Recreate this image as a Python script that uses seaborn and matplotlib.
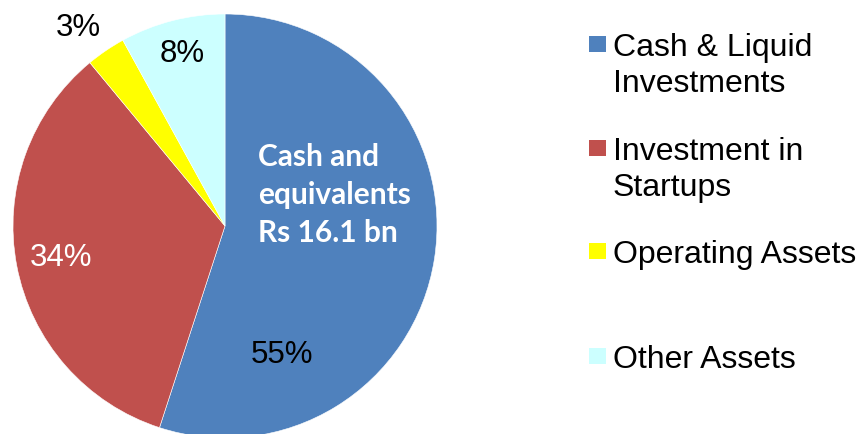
import matplotlib
matplotlib.use("Agg")
import matplotlib.pyplot as plt
import seaborn as sns
from matplotlib.patches import Rectangle

# Data
categories = ['Cash & Liquid\nInvestments', 'Investment in\nStartups', 'Operating Assets', 'Other Assets']
shares = [55, 34, 3, 8]
pct_labels = ['55%', '34%', '3%', '8%']
colors = ['#4F81BD', '#C0504D', '#FFFF00', '#CCFFFF']
pct_colors = ['black', 'white', 'black', 'black']
callout = 'Cash and\nequivalents\nRs 16.1 bn'

sns.set_theme(style='white')
plt.rcParams['font.family'] = ['Liberation Sans', 'DejaVu Sans']

W, H = 862, 435
fig = plt.figure(figsize=(W / 100, H / 100), dpi=100)
fig.patch.set_facecolor('white')

# pie: centre (225, 227) px, radius 212 px
ax = fig.add_axes([13 / W, (H - 439) / H, 424 / W, 424 / H])
ax.pie(shares, colors=colors, startangle=90, counterclock=False, radius=1,
       wedgeprops=dict(edgecolor='white', linewidth=0.4))
ax.set_xlim(-1, 1)
ax.set_ylim(-1, 1)
ax.set_aspect('equal')
ax.axis('off')

# data label placement (axes data units)
label_pos = [(0.269, -0.604), (-0.774, -0.146), (-0.693, 0.939), (-0.203, 0.816)]
for txt, col, (x, y) in zip(pct_labels, pct_colors, label_pos):
    ax.text(x, y, txt, ha='center', va='center', fontsize=22.5, color=col, clip_on=False)

ax.text(0.156, 0.151, callout, ha='left', va='center', fontsize=21.5, color='white',
        fontweight='bold', family=['Lato', 'DejaVu Sans'], linespacing=1.42)

# legend drawn by hand to follow the original spacing
leg_y = [45, 149, 252, 357]
line_gap = 36
for lab, col, yc in zip(categories, colors, leg_y):
    fig.patches.append(Rectangle((589 / W, 1 - (yc + 8) / H), 17 / W, 16 / H,
                                 transform=fig.transFigure, facecolor=col, edgecolor='none'))
    for i, line in enumerate(lab.split('\n')):
        fig.text(613 / W, 1 - (yc + 11 + i * line_gap) / H, line, ha='left', va='baseline',
                 fontsize=23, color='black')

fig.savefig('out.png', dpi=100, facecolor='white')
